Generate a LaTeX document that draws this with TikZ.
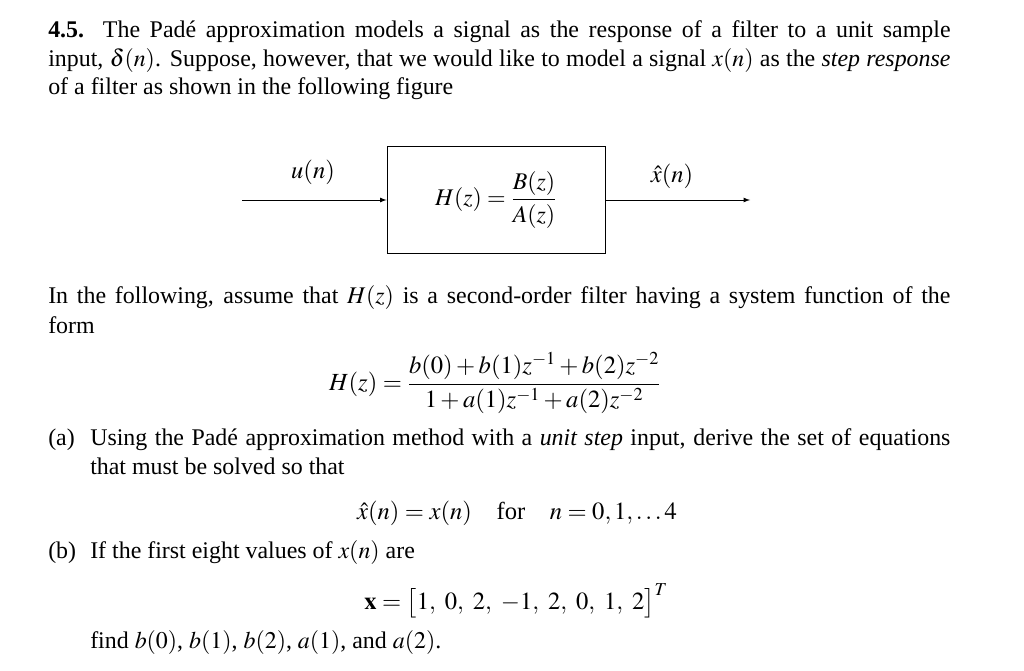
\documentclass[tikz,border=0pt]{standalone}
\usepackage{amsmath}
\usepackage{mathptmx}
\usepackage{fontspec}
\setmainfont{Liberation Serif}
\usetikzlibrary{positioning}
\newcommand{\fitline}[1]{\makebox[22.55cm][s]{#1}}
\tikzset{
  txt/.style={anchor=west, inner sep=0pt, font=\fontsize{17}{20}\selectfont},
  eqn/.style={inner sep=0pt, font=\fontsize{17.5}{21}\selectfont},
  blockbox/.style={draw, line width=0.6pt, minimum width=5.45cm, minimum height=2.68cm, font=\fontsize{17}{20}\selectfont},
  sig/.style={-latex, line width=0.6pt}
}
\begin{document}
\begin{tikzpicture}[x=0.025cm,y=-0.025cm]
\useasboundingbox (0,0) rectangle (1024,670);

\node[txt] (l1) at (48,32) {\fitline{\textbf{4.5.} The Padé approximation models a signal as the response of a filter to a unit sample}};
\node[txt] (l2) at (48,61) {\fitline{input, $\delta(n)$. Suppose, however, that we would like to model a signal $x(n)$ as the \textit{step response}}};
\node[txt] (l3) at (48,89) {of a filter as shown in the following figure};

% block diagram
\node[blockbox] (filt) at (496,200) {$H(z)=\dfrac{B(z)}{A(z)}$};
\coordinate (in) at (242,200);
\coordinate (out) at (750,200);
\draw[sig] (in) -- (filt.west);
\draw[sig] (filt.east) -- (out);
\node[eqn] (un) at (313,172) {$u(n)$};
\node[eqn] (xh) at (672,176) {$\hat{x}(n)$};

\node[txt] (l4) at (48,298) {\fitline{In the following, assume that $H(z)$ is a second-order filter having a system function of the}};
\node[txt] (l5) at (48,325) {form};
\node[eqn] (hz) at (495,383) {$H(z)=\dfrac{b(0)+b(1)z^{-1}+b(2)z^{-2}}{1+a(1)z^{-1}+a(2)z^{-2}}$};

\node[txt] (pa) at (48,440) {(a)};
\node[txt] (l6) at (90,440) {\makebox[21.5cm][s]{Using the Padé approximation method with a \textit{unit step} input, derive the set of equations}};
\node[txt] (l7) at (90,466) {that must be solved so that};
\node[eqn] (cond) at (517,513) {$\hat{x}(n)=x(n)\quad\text{for}\quad n=0,1,\ldots 4$};

\node[txt] (pb) at (48,553) {(b)};
\node[txt] (l8) at (90,553) {If the first eight values of $x(n)$ are};
\node[eqn] (vec) at (516,601) {$\mathbf{x}=\bigl[1,\ 0,\ 2,\ -1,\ 2,\ 0,\ 1,\ 2\bigr]^T$};
\node[txt] (l9) at (90,643) {find $b(0)$, $b(1)$, $b(2)$, $a(1)$, and $a(2)$.};
\end{tikzpicture}
\end{document}
